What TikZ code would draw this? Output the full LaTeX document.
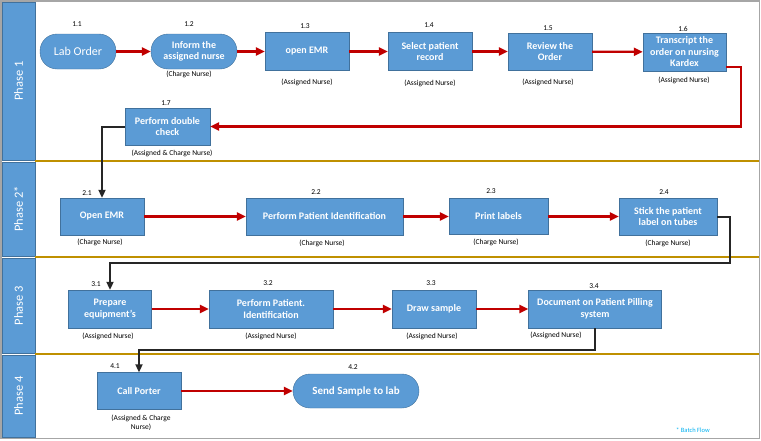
\documentclass[tikz,border=0pt]{standalone}
\usepackage{fontspec}
\setmainfont{Carlito}
\usetikzlibrary{arrows.meta}
\definecolor{boxblue}{HTML}{5B9BD5}
\definecolor{boxedge}{HTML}{41719C}
\definecolor{flowred}{HTML}{C00000}
\definecolor{lanegold}{HTML}{BF9000}
\definecolor{framegray}{HTML}{A6A6A6}
\definecolor{batchblue}{HTML}{00B0F0}
\begin{document}
\begin{tikzpicture}[x=1pt, y=-1pt,
      stepbox/.style={draw=boxedge, fill=boxblue, text=white, align=center, inner sep=0pt,
        font=\fontsize{10}{11.5}\selectfont\bfseries},
      roundbox/.style={stepbox, rounded corners=17pt},
      lane/.style={draw=boxedge, fill=boxblue, text=white, rotate=90, inner sep=0pt,
        font=\fontsize{12.5}{14}\selectfont},
      num/.style={font=\fontsize{7.5}{8}\selectfont, inner sep=0pt},
      who/.style={font=\fontsize{7.5}{9}\selectfont, inner sep=0pt, align=center},
      flow/.style={draw=flowred, line width=2.2pt, -{Triangle[length=9pt,width=8pt]}},
      hand/.style={draw=black!85, line width=2pt, -{Triangle[length=8pt,width=7pt]}}]
    \useasboundingbox (0,0) rectangle (761,440);
    % frame, lane headers and lane borders
    \draw[framegray, line width=1.5pt] (1,1) rectangle (759.5,438.5);
    \node[lane, minimum width=158pt, minimum height=33pt] (ph1) at (18.5,81) {Phase 1};
    \node[lane, minimum width=94pt, minimum height=33pt] (ph2) at (18.5,209) {Phase 2*};
    \node[lane, minimum width=95pt, minimum height=33pt] (ph3) at (18.5,305.5) {Phase 3};
    \node[lane, minimum width=82pt, minimum height=33pt] (ph4) at (18.5,396) {Phase 4};
    \draw[lanegold, line width=2.5pt] (35,161) -- (759,161);
    \draw[lanegold, line width=2.5pt] (35,257) -- (759,257);
    \draw[lanegold, line width=2.5pt] (35,354) -- (759,354);
    % phase 1
    \node[roundbox, minimum width=76pt, minimum height=35pt,
      font=\fontsize{12}{14}\selectfont] (n11) at (78,51.5) {Lab Order};
    \node[roundbox, minimum width=86pt, minimum height=35pt] (n12) at (194,51.5) {Inform the\\assigned nurse};
    \node[stepbox, minimum width=84pt, minimum height=38pt] (n13) at (307,51.5) {open EMR};
    \node[stepbox, minimum width=84pt, minimum height=38pt] (n14) at (430,51.5) {Select patient\\record};
    \node[stepbox, minimum width=84pt, minimum height=37pt] (n15) at (550,51.5) {Review the\\Order};
    \node[stepbox, minimum width=83pt, minimum height=38pt] (n16) at (684.5,52) {Transcript the\\order on nursing\\Kardex};
    \node[stepbox, minimum width=85pt, minimum height=37pt] (n17) at (167.5,126.5) {Perform double\\check};
    \node[num] (num11) at (77,24) {1.1};
    \node[num] (num12) at (189,24) {1.2};
    \node[num] (num13) at (305,26) {1.3};
    \node[num] (num14) at (429,25) {1.4};
    \node[num] (num15) at (548,28) {1.5};
    \node[num] (num16) at (683,29) {1.6};
    \node[num] (num17) at (166,103) {1.7};
    \node[who] (who12) at (189,74) {(Charge Nurse)};
    \node[who] (who13) at (307,82) {(Assigned Nurse)};
    \node[who] (who14) at (430,83) {(Assigned Nurse)};
    \node[who] (who15) at (548,82) {(Assigned Nurse)};
    \node[who] (who16) at (684,80) {(Assigned Nurse)};
    \node[who] (who17) at (172,153) {(Assigned \& Charge Nurse)};
    % phase 2
    \node[stepbox, minimum width=84pt, minimum height=37pt] (n21) at (102,216.5) {Open EMR};
    \node[stepbox, minimum width=157pt, minimum height=37pt] (n22) at (324.5,216.5) {Perform Patient Identification};
    \node[stepbox, minimum width=99pt, minimum height=36pt] (n23) at (498.5,216.5) {Print labels};
    \node[stepbox, minimum width=98pt, minimum height=37pt] (n24) at (668,216.5) {Stick the patient\\label on tubes};
    \node[num] (num21) at (87,193) {2.1};
    \node[num] (num22) at (316,192) {2.2};
    \node[num] (num23) at (491,191) {2.3};
    \node[num] (num24) at (664,192) {2.4};
    \node[who] (who21) at (100,242) {(Charge Nurse)};
    \node[who] (who22) at (322,243) {(Charge Nurse)};
    \node[who] (who23) at (496,242) {(Charge Nurse)};
    \node[who] (who24) at (668,243) {(Charge Nurse)};
    % phase 3
    \node[stepbox, minimum width=83pt, minimum height=38pt] (n31) at (110,309) {Prepare\\equipment's};
    \node[stepbox, minimum width=124pt, minimum height=38pt] (n32) at (271,309) {Perform Patient.\\Identification};
    \node[stepbox, minimum width=84pt, minimum height=38pt] (n33) at (434,309) {Draw sample};
    \node[stepbox, minimum width=133pt, minimum height=38pt] (n34) at (595,309) {Document on Patient Pilling\\system};
    \node[num] (num31) at (96,284) {3.1};
    \node[num] (num32) at (268,283) {3.2};
    \node[num] (num33) at (431,283) {3.3};
    \node[num] (num34) at (594,286) {3.4};
    \node[who] (who31) at (108,336) {(Assigned Nurse)};
    \node[who] (who32) at (271,336) {(Assigned Nurse)};
    \node[who] (who33) at (432,336) {(Assigned Nurse)};
    \node[who] (who34) at (556,335) {(Assigned Nurse)};
    % phase 4
    \node[stepbox, minimum width=84pt, minimum height=37pt] (n41) at (139,391) {Call Porter};
    \node[roundbox, minimum width=126pt, minimum height=34pt, font=\fontsize{11}{13}\selectfont\bfseries] (n42) at (356,391) {Send Sample to lab};
    \node[num] (num41) at (115,366) {4.1};
    \node[num] (num42) at (353,367) {4.2};
    \node[who] (who41) at (141,423) {(Assigned \& Charge\\Nurse)};
    \node[font=\fontsize{6.5}{7}\selectfont, text=batchblue, inner sep=0pt] (batch) at (693,430) {* Batch Flow};
    % arrows
    \coordinate (c16) at (741,126.5);
    \coordinate (c24) at (730,263);
    \coordinate (c34) at (595,350);
    \draw[flow] (n11) -- (n12);
    \draw[flow] (n12) -- (n13);
    \draw[flow] (n13) -- (n14);
    \draw[flow] (n14) -- (n15);
    \draw[flow] (n15) -- (n16);
    \draw[flow] (n16.-20) -| (c16) -- (n17.east);
    \draw[hand] (n17.west) -| (n21.north);
    \draw[flow] (n21) -- (n22);
    \draw[flow] (n22) -- (n23);
    \draw[flow] (n23) -- (n24);
    \draw[hand] (n24.east) -| (c24) -| (n31.north);
    \draw[flow] (n31) -- (n32);
    \draw[flow] (n32) -- (n33);
    \draw[flow] (n33) -- (n34);
    \draw[hand] (n34.south) -- (c34) -| (n41.north);
    \draw[flow] (n41) -- (n42);
  \end{tikzpicture}
\end{document}
